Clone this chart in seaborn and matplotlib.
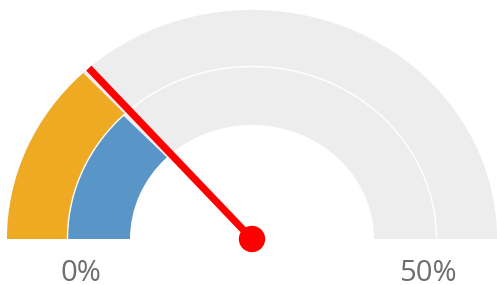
import numpy as np
import pandas as pd
import seaborn as sns
import matplotlib
matplotlib.use("Agg")
import matplotlib.pyplot as plt
from matplotlib.patches import Wedge

# ---- data ----
gauge_min = 0
gauge_max = 50
tick_labels = ["0%", "50%"]
outer_value = 12.9      # orange (outer ring)
inner_value = 12.7      # blue (inner ring)
needle_value = 13.4     # red needle

sns.set_theme(style="white")
plt.rcParams["font.family"] = ["Open Sans", "DejaVu Sans"]

W, H, DPI = 4.97, 2.85, 100
fig = plt.figure(figsize=(W, H), dpi=DPI)
ax = fig.add_axes([0, 0, 1, 1])

# pixel-based geometry: center at (252, 239) px, vertical squash 0.935
ysq = 0.935
cx, cy = 252, 239
ax.set_xlim(-cx, 497 - cx)
ax.set_ylim(-(285 - cy) / ysq, cy / ysq)
ax.set_axis_off()

R_out, R_mid, R_in = 245, 184.5, 122


def ang(v):
    return 180 - (v - gauge_min) / (gauge_max - gauge_min) * 180


gray = "#EDEDED"
# background rings
ax.add_patch(Wedge((0, 0), R_out, 0, 180, width=R_out - R_mid, facecolor=gray, edgecolor="none"))
ax.add_patch(Wedge((0, 0), R_mid, 0, 180, width=R_mid - R_in, facecolor=gray, edgecolor="none"))
# value rings
ax.add_patch(Wedge((0, 0), R_out, ang(outer_value), 180, width=R_out - R_mid,
                   facecolor="#EDAA22", edgecolor="none"))
ax.add_patch(Wedge((0, 0), R_mid, ang(inner_value), 180, width=R_mid - R_in,
                   facecolor="#5A95C8", edgecolor="none"))
# separator arc
t = np.linspace(0, np.pi, 400)
ax.plot(R_mid * np.cos(t), R_mid * np.sin(t), color="white", lw=1.0)

# needle
a = np.deg2rad(ang(needle_value))
needle = pd.DataFrame({"x": [0, R_out * np.cos(a)], "y": [0, R_out * np.sin(a)]})
sns.lineplot(data=needle, x="x", y="y", ax=ax, color="#FF0000", lw=5.2,
             solid_capstyle="butt", sort=False, estimator=None)
sns.scatterplot(x=[0], y=[0], ax=ax, color="#FF0000", s=360, edgecolor="none", zorder=5)

ax.set_xlim(-cx, 497 - cx)
ax.set_ylim(-(285 - cy) / ysq, cy / ysq)
ax.set_axis_off()

# labels
lab_y = -(281 - cy) / ysq
ax.text(80.5 - cx, lab_y, tick_labels[0], ha="center", va="baseline",
        fontsize=21, color="#6E6E6E")
ax.text(428 - cx, lab_y, tick_labels[1], ha="center", va="baseline",
        fontsize=21, color="#6E6E6E")

fig.savefig("out.png", dpi=DPI)
